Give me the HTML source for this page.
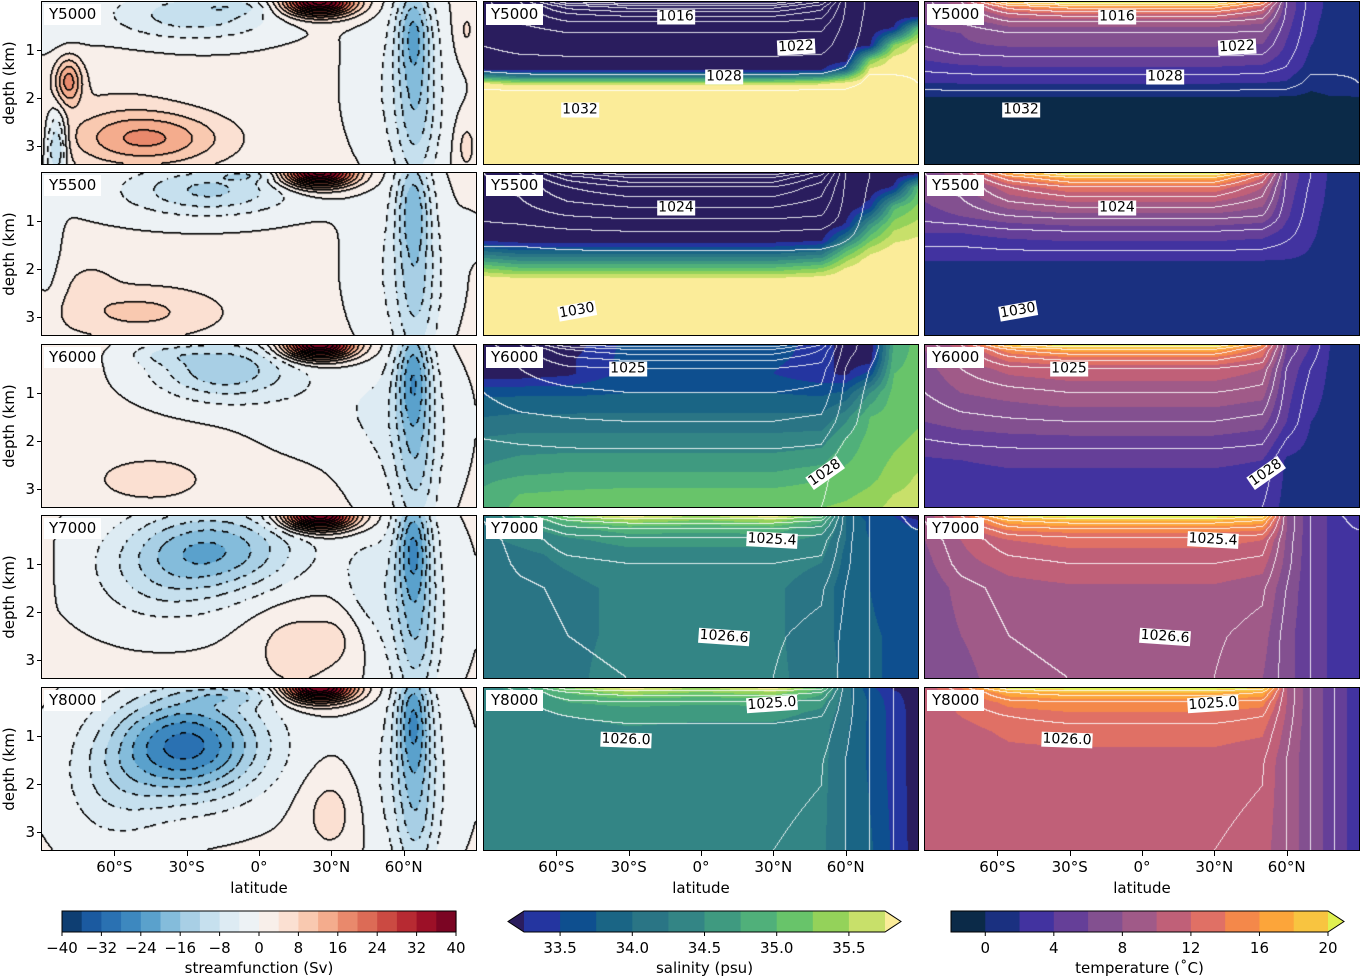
<!DOCTYPE html>
<html><head><meta charset="utf-8">
<style>
body{margin:0;background:#fff;width:1360px;height:977px;position:relative;overflow:hidden;font-family:"DejaVu Sans","Liberation Sans",sans-serif;color:#000}
.abs{position:absolute}
.frame{position:absolute;border:1px solid #000;box-sizing:border-box;pointer-events:none}
.tag{position:absolute;background:#fff;font-size:15px;padding:1px 5px;line-height:19px}
.lbl{position:absolute;background:#fff;font-size:14px;line-height:15px;padding:0 1px;transform:translate(-50%,-50%)}
.tk{position:absolute;font-size:15px;transform:translate(-50%,0)}
.tkl{position:absolute;font-size:15px;transform:translate(-100%,-50%)}
.yl{position:absolute;font-size:15px;transform:translate(-50%,-50%) rotate(-90deg);white-space:nowrap}
</style></head>
<body>
<div id="root"></div>
<svg id="cbsvg" class="abs" style="left:0;top:0" width="1360" height="977"></svg>
<script>
const LATS=[-90,-75,-55,-30,0,30,50,60,70,80,90];
const years=['Y5000','Y5500','Y6000','Y7000','Y8000'];
// streamfunction blobs: [lat, depth, amplitude(Sv), sigmaLat, sigmaDepth]
const psiBase=[1,1,0.8,0.5,0.5];
const psiY5000=[[-25,0.25,-9,22,0.35],[-40,0.3,-3,35,0.5],[-10,0.1,-4,10,0.1],[25,0,46,10,0.2],[-79,1.65,16,4,0.35],[-84,3.0,-16,3,0.5],[-45,2.85,14,22,0.4],[-60,2.5,3,20,0.8],[64,0.5,-14,5,0.7],[65,2.2,-12,6,1.3],[60,1.8,-5,15,1.2],[86,0.6,4,3,0.4],[86,3.0,5,3,0.4],[-85,0.3,-3,8,0.6]];
const psiY5500=[[-20,0.35,-11,22,0.35],[-5,0.05,-6,8,0.08],[25,0,46,10,0.2],[-50,2.9,8,25,0.4],[-70,2.2,3,8,0.3],[64,0.6,-15,5,0.8],[65,2.6,-10,6,1.2],[60,2,-5,15,1.2],[-88,1.5,-3,4,1.5],[88,1.3,-2,4,0.3],[-30,0.4,-3,40,0.5]];
const psiY6000=[[-15,0.5,-16,20,0.45],[-40,0.2,-5,10,0.15],[25,0,48,10,0.2],[-45,2.8,5,20,0.4],[30,1.3,-3,25,0.7],[64,0.5,-17,5,0.8],[65,2.4,-11,6,1.3],[60,1.8,-5,15,1.2]];
const psiY7000=[[-20,0.7,-20,25,0.6],[-40,1.5,-6,20,0.6],[25,0,48,10,0.2],[15,2.8,6,12,0.6],[35,2.5,4,8,0.5],[45,1.5,-4,8,0.7],[64,0.5,-18,5,0.8],[65,2.4,-12,6,1.3],[60,1.8,-5,15,1.2],[-88,1.5,3,1.5,2]];
const psiY8000=[[-30,1.2,-30,22,0.75],[-60,2.2,-6,15,0.8],[-10,0.15,-8,15,0.15],[25,0,48,10,0.2],[30,2.6,6,8,0.6],[64,0.5,-18,5,0.8],[65,2.4,-12,6,1.3],[60,1.8,-5,15,1.2]];
const psiAll=[psiY5000,psiY5500,psiY6000,psiY7000,psiY8000];

// salinity grids (rows = depths, cols = LATS)
const salDep5000=[0,0.3,0.55,0.9,1.2,1.4,1.55,1.7,1.8,3.4];
const sal5000=[[33,33,33,33,33,33,33,33,33,33,33],[33,33,33,33,33,33,33,33,33,33,33.2],[33,33,33,33,33,33,33,33,33,33.3,35.0],[33,33,33,33,33,33,33,33,33.2,35.3,35.9],[33,33,33,33,33,33,33,33.1,35.2,35.9,36],[33.2,33.1,33.1,33.1,33.1,33.1,33.2,33.8,35.8,36,36],[34.5,34.2,34.2,34.2,34.2,34.2,34.4,35.0,36,36,36],[35.8,35.6,35.6,35.6,35.6,35.6,35.7,35.9,36,36,36],[36,36,36,36,36,36,36,36,36,36,36],[36,36,36,36,36,36,36,36,36,36,36]];
const salDep5500=[0,0.3,0.7,1.1,1.4,1.6,1.8,2.0,2.2,3.4];
const sal5500=[[33,33,33,33,33,33,33,33,33,33,33.1],[33,33,33,33,33,33,33,33,33,33.3,35.0],[33,33,33,33,33,33,33,33,33.4,34.9,35.3],[33,33,33,33,33,33,33,33.3,34.6,35.4,35.6],[33.2,33.1,33.1,33.1,33.1,33.1,33.2,34.2,35.2,35.7,35.8],[33.9,33.7,33.7,33.7,33.7,33.7,33.9,34.9,35.6,35.9,35.9],[34.6,34.4,34.4,34.4,34.4,34.4,34.6,35.4,35.9,36,36],[35.3,35.1,35.1,35.1,35.1,35.1,35.3,35.8,36,36,36],[35.9,35.8,35.8,35.8,35.8,35.8,35.9,36,36,36,36],[36,36,36,36,36,36,36,36,36,36,36]];
const salDep6000=[0,0.3,0.6,1.0,1.5,2.0,2.5,2.8,3.1,3.4];
const sal6000=[[33.0,33.0,33.1,33.6,33.6,33.6,33.4,33.1,33.0,34.8,35.1],[33.0,33.0,33.2,33.6,33.6,33.55,33.4,33.1,33.1,34.9,35.1],[33.1,33.1,33.2,33.6,33.6,33.5,33.3,33.2,33.6,35.0,35.1],[33.7,33.7,33.7,33.75,33.75,33.75,33.7,33.8,34.5,35.1,35.15],[34.0,34.05,34.05,34.05,34.05,34.05,34.05,34.4,35.0,35.15,35.2],[34.3,34.35,34.35,34.35,34.35,34.35,34.4,34.8,35.1,35.2,35.3],[34.5,34.6,34.65,34.65,34.65,34.65,34.75,35.0,35.15,35.3,35.45],[34.7,34.8,34.85,34.85,34.85,34.85,35.0,35.1,35.2,35.35,35.55],[34.8,35.0,35.05,35.1,35.1,35.1,35.15,35.2,35.3,35.5,35.6],[34.8,35.1,35.15,35.2,35.2,35.2,35.25,35.3,35.4,35.6,35.6]];
const salDep7000=[0,0.1,0.25,0.5,0.8,1.5,2.5,3.4];
const sal7000=[[34.2,34.6,35.2,35.9,35.4,35.9,34.9,34.0,33.6,33.5,33.0],[34.2,34.5,35.0,35.4,35.2,35.4,34.8,34.0,33.7,33.6,33.3],[34.2,34.4,34.7,34.9,34.85,34.9,34.6,34.0,33.7,33.6,33.5],[34.2,34.3,34.45,34.6,34.6,34.6,34.4,34.0,33.75,33.6,33.6],[34.15,34.2,34.3,34.4,34.4,34.4,34.3,33.95,33.75,33.6,33.6],[34.1,34.15,34.2,34.3,34.35,34.3,34.1,33.9,33.75,33.6,33.6],[34.1,34.1,34.2,34.3,34.35,34.3,34.1,33.9,33.8,33.7,33.6],[34.1,34.1,34.2,34.35,34.35,34.3,34.15,33.95,33.8,33.7,33.6]];
const salDep8000=[0,0.1,0.25,0.5,0.8,1.5,3.4];
const sal8000=[[34.4,34.6,35.2,35.9,35.4,35.9,34.9,34.1,33.6,33.2,33.0],[34.4,34.5,35.0,35.4,35.2,35.4,34.8,34.1,33.65,33.3,33.1],[34.4,34.45,34.8,34.9,34.85,34.9,34.6,34.1,33.7,33.35,33.1],[34.35,34.4,34.55,34.65,34.6,34.6,34.45,34.1,33.7,33.4,33.1],[34.35,34.35,34.4,34.5,34.45,34.45,34.35,34.05,33.7,33.4,33.1],[34.35,34.35,34.4,34.4,34.4,34.4,34.35,34.0,33.7,33.4,33.1],[34.35,34.35,34.4,34.4,34.4,34.4,34.3,34.0,33.8,33.45,33.1]];
// temperature grids
const tmpDep5000=[0,0.1,0.25,0.45,0.65,0.93,1.35,1.7,1.95,2.05,3.4];
const tmp5000=[[6.5,9,19,21,21,21,15,5,2.5,1.5,1.2],[6.5,8,14,16,16,16,12,5,2.5,1.5,1.2],[6.2,7.5,11,12,12,12,10,4.8,2.4,1.5,1.2],[6,7,8.5,8.5,8.5,8.5,8,4.5,2.3,1.4,1.2],[5.5,6,7,7,7,7,6.8,4.2,2.2,1.4,1.2],[5,5.8,6,6,6,6,5.8,3.8,2,1.4,1.2],[3.5,3.8,4,4,4,4,3.8,3,1.5,1.2,1.1],[1.9,2,2,2,2,2,1.9,1.8,0.5,0.8,1.0],[0.3,0.3,0.3,0.3,0.3,0.3,0.3,0.2,-0.3,0.1,0.3],[-1,-1,-1,-1,-1,-1,-1,-1,-1,-1,-1],[-1.5,-1.5,-1.5,-1.5,-1.5,-1.5,-1.5,-1.5,-1.5,-1.5,-1.5]];
const tmpDep5500=[0,0.1,0.3,0.6,0.9,1.25,1.8,1.9,3.4];
const tmp5500=[[7,9,17,21,21,21,14,5,3,1.5,1.3],[6.8,8.5,14,17,17,17,12,5,3,1.5,1.3],[6.5,7.5,11,13,13,13,10,4.8,2.8,1.5,1.3],[6,6.8,9,10,10,10,8.5,4.5,2.6,1.5,1.3],[5.5,6,7,7.5,7.5,7.5,7,4.2,2.4,1.4,1.3],[4,4,4.5,4.8,4.8,4.8,4.5,3.5,2.2,1.4,1.3],[2.1,2.1,2.2,2.2,2.2,2.2,2.1,2,1.8,1.4,1.3],[1.7,1.7,1.7,1.7,1.7,1.7,1.7,1.7,1.6,1.4,1.3],[1.2,1.2,1.2,1.2,1.2,1.2,1.2,1.2,1.2,1.2,1.2]];
const tmpDep6000=[0,0.1,0.25,0.5,1.0,1.6,2.4,3.4];
const tmp6000=[[8,11,19,21,21,21,15,6,4,1.5,1.5],[8,10,15,17,17,17,13,6,3.8,1.5,1.5],[7.8,9.5,13,14,14,14,12,5.5,3.5,1.5,1.5],[7.5,9,10.5,11,11,11,10,5,3,1.5,1.5],[7,8,8.5,9,9,9,8.5,4.5,2.5,1.5,1.5],[6,6.5,6.8,7,7,7,6.5,4,2,1.5,1.5],[3.8,4.0,4.2,4.2,4.2,4.2,4,1.8,1.5,1.5,1.5],[3,3,3,3,3,3,3,1.5,1.5,1.5,1.5]];
const tmpDep7000=[0,0.1,0.3,0.5,1.0,1.5,2.5,3.4];
const tmp7000=[[9,13,20,21,21,21,20,8,5,3.5,2],[9,12,17,18,18,18,17,8,5,3.5,2.5],[8.5,11,14,14.5,14.5,14.5,14,8,5,3.5,3],[8,10,12,12.5,12.5,12.5,12,7.8,5,3.5,3],[7.5,9.5,10.5,11,11,11,10.5,7.5,5,3.5,3],[7,8.5,9.5,9.8,9.8,9.8,9.3,7,5,3.5,3],[7,8,9,9.2,9.2,9.2,8.5,6.5,5,3.5,3],[7,7.5,8.8,9,9,9,8,6.5,5,3.5,3]];
const tmpDep8000=[0,0.1,0.3,0.6,0.9,1.5,3.4];
const tmp8000=[[11,14,20.5,21,21,21,20,10,7,5,3],[11,13,17,18,18,18,17,10,7,5,3],[11,12.5,14.5,15,15,15,14.5,10,7,5,3],[11,12,13,13.5,13.5,13.5,13,9.8,7,5,3],[11,11.5,12.3,12.5,12.5,12.5,12.2,9.5,7,5,3],[11,11,11.5,11.6,11.6,11.6,11.2,9,7,5,3],[11,11,11,11,11,11,10.5,9,7,5,3]];
const salDeps=[salDep5000,salDep5500,salDep6000,salDep7000,salDep8000];
const salGrids=[sal5000,sal5500,sal6000,sal7000,sal8000];
const tmpDeps=[tmpDep5000,tmpDep5500,tmpDep6000,tmpDep7000,tmpDep8000];
const tmpGrids=[tmp5000,tmp5500,tmp6000,tmp7000,tmp8000];
const isoLevels=[1,3,5,7,9,11,13,15,17,19];

const psiColors=['#0e3e72','#1b5aa0','#2a71b2','#3d88bf','#5aa1cc','#84bcdb','#a8cfe5','#c6e0ee','#ddebf3','#edf2f5','#f8efea','#fbe0d2','#f9c9b0','#f4ac8d','#e9896c','#dc6b56','#cb4a42','#b72a32','#9c1027','#7b0523'];
const salColors=['#2a1d5e','#2435a0','#0e4f8f','#1a6585','#2a7585','#338585','#3f9a80','#50b07a','#68c46a','#94d25a','#c8e06a','#fbec99'];
const tmpColors=['#0b2a48','#1a3080','#4233a0','#653f98','#835090','#a05a88','#c06078','#e07065','#f4884a','#fca53a','#f8c440','#e0f050'];
const psiTicks=[-40,-32,-24,-16,-8,0,8,16,24,32,40];
const salTicks=[33.5,34.0,34.5,35.0,35.5];
const tmpTicks=[0,4,8,12,16,20];
const latTicks=[-60,-30,0,30,60];
const latTickLabels=['60°S','30°S','0°','30°N','60°N'];
const depthTicks=[1,2,3];

const rowTops=[2,173,345,516,688], colLefts=[42,484,925], PW=434, PH=162, DMAX=3.375;
const root=document.getElementById('root');
function hex(c){return [parseInt(c.slice(1,3),16),parseInt(c.slice(3,5),16),parseInt(c.slice(5,7),16)];}
const psiRGB=psiColors.map(hex), salRGB=salColors.map(hex), tmpRGB=tmpColors.map(hex);
function latOf(x){return -90+(x+0.5)/PW*180;}
function depOf(y){return (y+0.5)/PH*DMAX;}
function findIdx(arr,v){let i=0;while(i<arr.length-2&&v>arr[i+1])i++;return i;}
function gridVal(D,G,lat,d){
  const i=findIdx(LATS,lat), j=findIdx(D,d);
  let fx=(lat-LATS[i])/(LATS[i+1]-LATS[i]); fx=Math.max(0,Math.min(1,fx));
  let fy=(d-D[j])/(D[j+1]-D[j]); fy=Math.max(0,Math.min(1,fy));
  const a=G[j][i],b=G[j][i+1],c=G[j+1][i],e=G[j+1][i+1];
  return (a*(1-fx)+b*fx)*(1-fy)+(c*(1-fx)+e*fx)*fy;
}
function psiVal(r,lat,d){
  let v=psiBase[r];
  for(const b of psiAll[r]){const dl=(lat-b[0])/b[3],dd=(d-b[1])/b[4];v+=b[2]*Math.exp(-0.5*(dl*dl+dd*dd));}
  return v;
}
function field(fn){const f=new Float32Array(PW*PH);for(let y=0;y<PH;y++){const d=depOf(y);for(let x=0;x<PW;x++)f[y*PW+x]=fn(latOf(x),d);}return f;}
function psiIdx(v){return Math.floor(v/4);}
function salIdx(v){return v<33.25?0:(v>=35.75?11:1+Math.floor((v-33.25)/0.25));}
function tmpIdx(v){return v<-2?0:(v>=20?11:Math.min(10,Math.floor((v+2)/2)));}
function isoIdx(v){let k=0;for(const l of isoLevels)if(v>=l)k++;return k;}

function makePanel(r,c){
  const cv=document.createElement('canvas');
  cv.width=PW;cv.height=PH;cv.className='abs';
  cv.style.left=colLefts[c]+'px';cv.style.top=rowTops[r]+'px';
  
  
  root.appendChild(cv);
  const ctx=cv.getContext('2d');const img=ctx.createImageData(PW,PH);const p=img.data;
  let f;
  if(c===0){f=field((la,d)=>psiVal(r,la,d));}
  else if(c===1){f=field((la,d)=>gridVal(salDeps[r],salGrids[r],la,d));}
  else {f=field((la,d)=>gridVal(tmpDeps[r],tmpGrids[r],la,d));}
  const q=new Int16Array(PW*PH);
  for(let k=0;k<q.length;k++){
    let rgb;
    if(c===0){q[k]=psiIdx(f[k]);rgb=psiRGB[Math.max(0,Math.min(19,q[k]+10))];}
    else if(c===1){rgb=salRGB[salIdx(f[k])];}
    else {rgb=tmpRGB[tmpIdx(f[k])];}
    p[k*4]=rgb[0];p[k*4+1]=rgb[1];p[k*4+2]=rgb[2];p[k*4+3]=255;
  }
  function paint(k,col,a){p[k*4]=p[k*4]*(1-a)+col*a;p[k*4+1]=p[k*4+1]*(1-a)+col*a;p[k*4+2]=p[k*4+2]*(1-a)+col*a;}
  if(c===0){
    for(let y=0;y<PH;y++)for(let x=0;x<PW;x++){
      const k=y*PW+x;
      for(const [nx,ny] of [[x+1,y],[x,y+1]]){
        if(nx>=PW||ny>=PH)continue;const k2=ny*PW+nx;
        if(q[k]!==q[k2]){const lev=Math.max(q[k],q[k2])*4;
          if(Math.abs(lev)>44)continue;
          if(lev<0&&((Math.floor(x/6)+Math.floor(y/6))%2===1))continue;
          paint(k,0,1);paint(k2,0,0.6);}
      }
    }
  } else {
    const t=field((la,d)=>gridVal(tmpDeps[r],tmpGrids[r],la,d));
    const iq=t.map(isoIdx);
    for(let y=0;y<PH;y++)for(let x=0;x<PW;x++){
      const k=y*PW+x;
      if((x+1<PW&&iq[k]!==iq[k+1])||(y+1<PH&&iq[k]!==iq[k+PW]))paint(k,255,0.85);
    }
  }
  ctx.putImageData(img,0,0);
  const fr=document.createElement('div');fr.className='frame';
  fr.style.left=(colLefts[c]-1)+'px';fr.style.top=(rowTops[r]-1)+'px';fr.style.width=(PW+2)+'px';fr.style.height=(PH+2)+'px';
  
  
  root.appendChild(fr);
  const tg=document.createElement('div');tg.className='tag';tg.textContent=years[r];
  tg.style.left=(colLefts[c]+2)+'px';tg.style.top=(rowTops[r]+2)+'px';
  
  
  root.appendChild(tg);
}
for(let r=0;r<5;r++)for(let c=0;c<3;c++)makePanel(r,c);

function addText(cls,txt,x,y,name,extra){
  const d=document.createElement('div');d.className=cls;d.textContent=txt;d.style.left=x+'px';d.style.top=y+'px';
  if(extra)d.style.transform=extra;
  
  
  root.appendChild(d);return d;
}
for(let r=0;r<5;r++){
  for(const t of depthTicks){
    const y=rowTops[r]+t/DMAX*PH;
    const m=document.createElement('div');m.className='abs';m.style.cssText=`left:37px;top:${y}px;width:5px;height:1px;background:#000`;
    
    
    root.appendChild(m);
    addText('tkl',String(t),35,y,'y-tick-label');
  }
  addText('yl','depth (km)',9,rowTops[r]+81,'y-axis-title');
}
for(let c=0;c<3;c++){
  latTicks.forEach((lt,i)=>{
    const x=colLefts[c]+(lt+90)/180*PW;
    const m=document.createElement('div');m.className='abs';m.style.cssText=`left:${x}px;top:851px;width:1px;height:5px;background:#000`;
    
    
    root.appendChild(m);
    addText('tk',latTickLabels[i],x,858,'x-tick-label');
  });
  addText('tk','latitude',colLefts[c]+PW/2,879,'x-axis-title');
}
const isoLab=[['1016',676,17,0],['1022',796,47,-3],['1028',724,77,0],['1032',580,110,0],['1024',676,208,0],['1030',577,311,-10],['1025',628,369,0],['1028',825,473,-35],['1025.4',772,540,3],['1026.6',724,637,4],['1025.0',772,704,-4],['1026.0',626,740,2]];
for(const off of [0,441])for(const l of isoLab)addText('lbl',l[0],l[1]+off,l[2],'density-contour-label','translate(-50%,-50%) rotate('+l[3]+'deg)');

const svg=document.getElementById('cbsvg');const NS='http://www.w3.org/2000/svg';
function el(tag,attrs,name){const e=document.createElementNS(NS,tag);for(const k in attrs)e.setAttribute(k,attrs[k]);
  
  
  svg.appendChild(e);return e;}
const CBY=911,CBH=21;
function cbar(x0,x1,colors,lowArrow,highArrow,ticks,tmin,tmax,fmt,title,name){
  const n=colors.length-(lowArrow?1:0)-(highArrow?1:0);const start=lowArrow?1:0;const w=(x1-x0)/n;
  for(let i=0;i<n;i++)el('rect',{x:x0+i*w,y:CBY,width:w+0.6,height:CBH,fill:colors[start+i]},name+'-swatch');
  if(lowArrow)el('polygon',{points:`${x0},${CBY} ${x0-16},${CBY+CBH/2} ${x0},${CBY+CBH}`,fill:colors[0]},name+'-low-extend');
  if(highArrow)el('polygon',{points:`${x1},${CBY} ${x1+16},${CBY+CBH/2} ${x1},${CBY+CBH}`,fill:colors[colors.length-1]},name+'-high-extend');
  let pts=`${x0},${CBY} ${x1},${CBY} `+(highArrow?`${x1+16},${CBY+CBH/2} `:'')+`${x1},${CBY+CBH} ${x0},${CBY+CBH} `+(lowArrow?`${x0-16},${CBY+CBH/2}`:'');
  el('polygon',{points:pts,fill:'none',stroke:'#000','stroke-width':1},name+'-outline');
  for(const t of ticks){const x=x0+(t-tmin)/(tmax-tmin)*(x1-x0);
    el('line',{x1:x,x2:x,y1:CBY+CBH,y2:CBY+CBH+4,stroke:'#000'},name+'-tick');
    const tx=el('text',{x:x,y:CBY+CBH+21,'font-size':15,'text-anchor':'middle','font-family':'DejaVu Sans, Liberation Sans, sans-serif'},name+'-tick-label');tx.textContent=fmt(t);}
  const tt=el('text',{x:(x0+x1)/2,y:973,'font-size':15,'text-anchor':'middle','font-family':'DejaVu Sans, Liberation Sans, sans-serif'},name+'-title');tt.textContent=title;
}
cbar(62,456,psiColors,false,false,psiTicks,-40,40,v=>String(v).replace('-','\u2212'),'streamfunction (Sv)','streamfunction-colorbar');
cbar(524,885,salColors,true,true,salTicks,33.25,35.75,v=>v.toFixed(1),'salinity (psu)','salinity-colorbar');
cbar(951,1328,tmpColors,false,true,tmpTicks,-2,20,v=>String(v),'temperature (\u02daC)','temperature-colorbar');
</script>
</body></html>
